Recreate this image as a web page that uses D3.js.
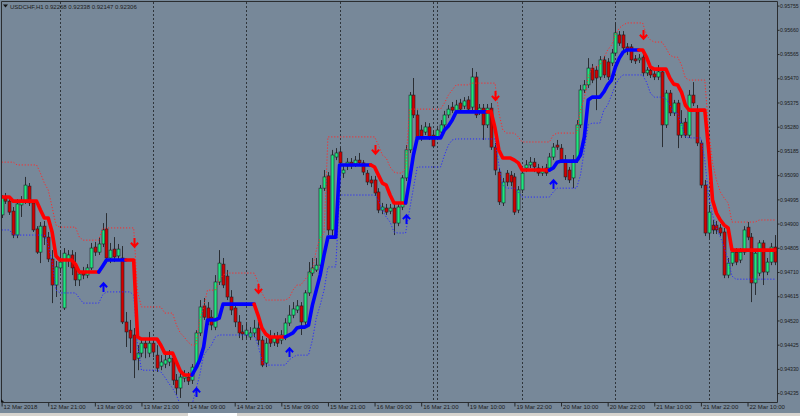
<!DOCTYPE html>
<html><head><meta charset="utf-8">
<script src="https://cdn.jsdelivr.net/npm/d3@7"></script>
<style>html,body{margin:0;padding:0;background:#778899;overflow:hidden}svg{display:block}</style>
</head><body><svg id="chart" width="800" height="416"></svg>
<script>
// USDCHF H1 candles (prices), bar 0 = first visible bar
const open = [
0.94934,0.95004,0.94988,0.94949,0.94855,0.94973,0.94985,0.95047,0.94981,0.94879,
0.94788,0.94890,0.94847,0.94761,0.94659,0.94726,0.94569,0.94757,0.94777,0.94730,
0.94679,0.94710,0.94698,0.94726,0.94808,0.94788,0.94820,0.94879,0.94765,0.94800,
0.94773,0.94765,0.94514,0.94482,0.94463,0.94372,0.94392,0.94431,0.94392,0.94431,
0.94384,0.94341,0.94349,0.94357,0.94372,0.94286,0.94255,0.94294,0.94298,0.94286,
0.94337,0.94471,0.94577,0.94569,0.94533,0.94494,0.94671,0.94741,0.94694,0.94612,
0.94569,0.94514,0.94475,0.94463,0.94455,0.94471,0.94490,0.94443,0.94353,0.94455,
0.94435,0.94455,0.94443,0.94455,0.94510,0.94541,0.94561,0.94577,0.94514,0.94628,
0.94706,0.94718,0.94737,0.95039,0.95087,0.94875,0.95161,0.95181,0.95098,0.95126,
0.95141,0.95134,0.95149,0.95138,0.95098,0.95071,0.95071,0.95024,0.94953,0.94961,
0.94949,0.94961,0.94902,0.94965,0.95079,0.95189,0.95404,0.95326,0.95267,0.95259,
0.95279,0.95247,0.95240,0.95259,0.95287,0.95326,0.95357,0.95345,0.95373,0.95361,
0.95385,0.95357,0.95475,0.95342,0.95353,0.95287,0.95353,0.95200,0.95102,0.94981,
0.95098,0.95090,0.95083,0.94953,0.95032,0.95118,0.95130,0.95141,0.95118,0.95098,
0.95118,0.95118,0.95161,0.95208,0.95196,0.95149,0.95110,0.95079,0.95149,0.95287,
0.95424,0.95444,0.95510,0.95502,0.95475,0.95542,0.95534,0.95530,0.95569,0.95640,
0.95640,0.95593,0.95593,0.95546,0.95542,0.95553,0.95491,0.95502,0.95487,0.95475,
0.95495,0.95287,0.95412,0.95334,0.95373,0.95247,0.95298,0.95247,0.95404,0.95345,
0.95216,0.95051,0.94863,0.94894,0.94894,0.94883,0.94867,0.94698,0.94745,0.94788,
0.94757,0.94788,0.94886,0.94847,0.94667,0.94706,0.94824,0.94710,0.94749,0.94808];
const high = [
0.95012,0.95020,0.94996,0.94965,0.94996,0.95008,0.95083,0.95059,0.94992,0.94890,
0.94906,0.94910,0.94867,0.94796,0.94753,0.94796,0.94804,0.94796,0.94796,0.94788,
0.94718,0.94730,0.94741,0.94824,0.94828,0.94847,0.94902,0.94941,0.94824,0.94847,
0.94820,0.94812,0.94553,0.94522,0.94490,0.94423,0.94451,0.94451,0.94475,0.94451,
0.94423,0.94384,0.94396,0.94404,0.94396,0.94310,0.94318,0.94325,0.94318,0.94349,
0.94482,0.94600,0.94608,0.94592,0.94561,0.94698,0.94796,0.94765,0.94718,0.94639,
0.94588,0.94541,0.94502,0.94514,0.94494,0.94522,0.94514,0.94459,0.94451,0.94482,
0.94471,0.94475,0.94482,0.94529,0.94580,0.94592,0.94600,0.94592,0.94639,0.94749,
0.94765,0.94765,0.95051,0.95110,0.95102,0.95189,0.95196,0.95200,0.95126,0.95157,
0.95157,0.95165,0.95177,0.95149,0.95110,0.95087,0.95087,0.95039,0.94981,0.94977,
0.94977,0.94977,0.94981,0.95090,0.95208,0.95416,0.95471,0.95345,0.95287,0.95298,
0.95294,0.95263,0.95283,0.95306,0.95342,0.95365,0.95377,0.95385,0.95389,0.95396,
0.95400,0.95510,0.95495,0.95369,0.95369,0.95369,0.95373,0.95216,0.95118,0.95079,
0.95110,0.95106,0.95098,0.95047,0.95118,0.95149,0.95161,0.95157,0.95134,0.95126,
0.95134,0.95177,0.95216,0.95228,0.95212,0.95169,0.95122,0.95169,0.95306,0.95444,
0.95463,0.95549,0.95526,0.95518,0.95557,0.95557,0.95549,0.95585,0.95687,0.95655,
0.95655,0.95608,0.95604,0.95561,0.95565,0.95565,0.95514,0.95518,0.95498,0.95522,
0.95502,0.95424,0.95424,0.95385,0.95385,0.95345,0.95314,0.95424,0.95455,0.95365,
0.95228,0.95071,0.94973,0.94914,0.94910,0.94898,0.94883,0.94765,0.94804,0.94804,
0.94804,0.94890,0.94906,0.94863,0.94796,0.94835,0.94835,0.94765,0.94824,0.94855];
const low = [
0.94922,0.94977,0.94934,0.94843,0.94843,0.94926,0.94977,0.94969,0.94867,0.94781,
0.94745,0.94816,0.94749,0.94588,0.94612,0.94706,0.94561,0.94730,0.94698,0.94655,
0.94655,0.94682,0.94686,0.94718,0.94773,0.94777,0.94808,0.94745,0.94745,0.94749,
0.94761,0.94506,0.94416,0.94392,0.94294,0.94325,0.94376,0.94372,0.94376,0.94376,
0.94318,0.94325,0.94333,0.94341,0.94267,0.94227,0.94216,0.94278,0.94267,0.94271,
0.94329,0.94459,0.94522,0.94502,0.94482,0.94482,0.94659,0.94647,0.94600,0.94541,
0.94494,0.94451,0.94443,0.94451,0.94443,0.94455,0.94423,0.94337,0.94337,0.94416,
0.94420,0.94416,0.94427,0.94443,0.94498,0.94529,0.94549,0.94463,0.94502,0.94616,
0.94694,0.94710,0.94726,0.95028,0.94855,0.94847,0.95149,0.95126,0.95079,0.95110,
0.95114,0.95122,0.95126,0.95090,0.95051,0.95043,0.95008,0.94941,0.94937,0.94934,
0.94937,0.94855,0.94890,0.94953,0.95067,0.95177,0.95314,0.95224,0.95224,0.95247,
0.95228,0.95196,0.95228,0.95247,0.95275,0.95314,0.95334,0.95334,0.95338,0.95349,
0.95338,0.95345,0.95314,0.95326,0.95228,0.95275,0.95189,0.95090,0.94973,0.94969,
0.95047,0.95047,0.94934,0.94941,0.95020,0.95102,0.95118,0.95102,0.95087,0.95087,
0.95087,0.95106,0.95149,0.95189,0.95138,0.95071,0.95059,0.95039,0.95138,0.95275,
0.95412,0.95432,0.95451,0.95345,0.95463,0.95471,0.95463,0.95518,0.95557,0.95597,
0.95573,0.95561,0.95530,0.95526,0.95530,0.95479,0.95479,0.95471,0.95463,0.95463,
0.95200,0.95275,0.95322,0.95322,0.95196,0.95236,0.95236,0.95236,0.95361,0.95204,
0.95039,0.94851,0.94843,0.94859,0.94859,0.94851,0.94686,0.94686,0.94733,0.94737,
0.94745,0.94777,0.94835,0.94592,0.94620,0.94694,0.94659,0.94698,0.94737,0.94737];
const close = [
0.95004,0.94988,0.94945,0.94855,0.94977,0.94985,0.95051,0.94981,0.94875,0.94788,
0.94890,0.94847,0.94761,0.94659,0.94730,0.94749,0.94784,0.94777,0.94726,0.94679,
0.94702,0.94698,0.94726,0.94804,0.94788,0.94820,0.94875,0.94765,0.94796,0.94769,
0.94800,0.94514,0.94475,0.94451,0.94365,0.94392,0.94431,0.94412,0.94431,0.94396,
0.94333,0.94357,0.94365,0.94372,0.94286,0.94255,0.94298,0.94302,0.94282,0.94337,
0.94471,0.94573,0.94533,0.94522,0.94502,0.94671,0.94745,0.94659,0.94612,0.94561,
0.94514,0.94471,0.94467,0.94482,0.94471,0.94490,0.94443,0.94345,0.94431,0.94431,
0.94455,0.94431,0.94463,0.94510,0.94541,0.94565,0.94577,0.94514,0.94628,0.94710,
0.94726,0.94737,0.95039,0.95083,0.94875,0.95169,0.95177,0.95138,0.95110,0.95141,
0.95126,0.95149,0.95138,0.95102,0.95063,0.95059,0.95020,0.94953,0.94965,0.94945,
0.94961,0.94902,0.94965,0.95079,0.95189,0.95404,0.95326,0.95236,0.95240,0.95279,
0.95240,0.95204,0.95267,0.95287,0.95326,0.95349,0.95345,0.95365,0.95349,0.95381,
0.95349,0.95475,0.95326,0.95353,0.95287,0.95353,0.95200,0.95110,0.94985,0.95063,
0.95063,0.95063,0.94945,0.95032,0.95098,0.95130,0.95141,0.95122,0.95098,0.95110,
0.95098,0.95161,0.95200,0.95200,0.95149,0.95083,0.95071,0.95149,0.95287,0.95424,
0.95444,0.95510,0.95463,0.95471,0.95542,0.95483,0.95475,0.95569,0.95648,0.95608,
0.95589,0.95581,0.95542,0.95538,0.95549,0.95491,0.95502,0.95483,0.95475,0.95495,
0.95287,0.95412,0.95334,0.95373,0.95247,0.95294,0.95247,0.95404,0.95373,0.95216,
0.95051,0.94863,0.94945,0.94875,0.94875,0.94863,0.94698,0.94745,0.94788,0.94749,
0.94788,0.94875,0.94847,0.94667,0.94784,0.94824,0.94710,0.94749,0.94808,0.94749];

// Trend line (thick), upper band (red dots), lower band (blue dots)
const trendLine = [
0.95004,0.95004,0.95004,0.94988,0.94988,0.94988,0.94988,0.94988,0.94988,0.94988,
0.94953,0.94922,0.94922,0.94867,0.94773,0.94757,0.94757,0.94757,0.94757,0.94741,
0.94710,0.94710,0.94710,0.94710,0.94710,0.94710,0.94733,0.94757,0.94757,0.94757,
0.94757,0.94757,0.94757,0.94757,0.94757,0.94455,0.94447,0.94447,0.94447,0.94447,
0.94447,0.94423,0.94392,0.94392,0.94392,0.94357,0.94322,0.94306,0.94306,0.94306,
0.94333,0.94365,0.94416,0.94522,0.94522,0.94522,0.94529,0.94584,0.94584,0.94584,
0.94584,0.94584,0.94584,0.94584,0.94584,0.94584,0.94541,0.94490,0.94467,0.94455,
0.94455,0.94455,0.94455,0.94455,0.94463,0.94471,0.94490,0.94494,0.94494,0.94502,
0.94580,0.94639,0.94698,0.94777,0.94847,0.94847,0.94847,0.95130,0.95130,0.95130,
0.95130,0.95130,0.95130,0.95130,0.95130,0.95130,0.95122,0.95090,0.95059,0.95051,
0.95012,0.94981,0.94981,0.94981,0.94981,0.95071,0.95169,0.95236,0.95236,0.95236,
0.95236,0.95236,0.95236,0.95236,0.95267,0.95283,0.95306,0.95338,0.95338,0.95338,
0.95338,0.95338,0.95338,0.95338,0.95338,0.95338,0.95338,0.95275,0.95189,0.95157,
0.95157,0.95157,0.95149,0.95138,0.95110,0.95110,0.95110,0.95110,0.95110,0.95110,
0.95110,0.95110,0.95118,0.95141,0.95145,0.95145,0.95145,0.95145,0.95145,0.95169,
0.95240,0.95385,0.95396,0.95396,0.95396,0.95416,0.95444,0.95463,0.95514,0.95549,
0.95573,0.95581,0.95581,0.95581,0.95581,0.95581,0.95553,0.95514,0.95506,0.95506,
0.95506,0.95506,0.95471,0.95447,0.95444,0.95416,0.95365,0.95345,0.95345,0.95345,
0.95345,0.95345,0.95189,0.94992,0.94941,0.94914,0.94894,0.94883,0.94796,0.94796,
0.94796,0.94796,0.94796,0.94796,0.94796,0.94796,0.94796,0.94796,0.94796,0.94796];
const upperBand = [
0.95141,0.95141,0.95141,0.95141,0.95130,0.95130,0.95130,0.95130,0.95130,0.95130,
0.95098,0.95059,0.95032,0.94965,0.94894,0.94886,0.94886,0.94886,0.94886,0.94886,
0.94847,0.94835,0.94835,0.94835,0.94835,0.94835,0.94879,0.94883,0.94883,0.94883,
0.94883,0.94883,0.94883,0.94883,0.94883,0.94632,0.94573,0.94573,0.94573,0.94573,
0.94573,0.94573,0.94549,0.94549,0.94549,0.94502,0.94471,0.94455,0.94435,0.94423,
0.94423,0.94522,0.94573,0.94639,0.94639,0.94639,0.94679,0.94698,0.94706,0.94706,
0.94706,0.94706,0.94706,0.94706,0.94706,0.94706,0.94671,0.94628,0.94600,0.94600,
0.94600,0.94600,0.94600,0.94600,0.94608,0.94639,0.94659,0.94659,0.94679,0.94698,
0.94718,0.94796,0.94843,0.94863,0.95240,0.95240,0.95240,0.95240,0.95240,0.95240,
0.95240,0.95240,0.95240,0.95240,0.95240,0.95240,0.95240,0.95208,0.95169,0.95157,
0.95122,0.95102,0.95098,0.95098,0.95118,0.95349,0.95349,0.95349,0.95349,0.95349,
0.95349,0.95349,0.95349,0.95349,0.95373,0.95404,0.95424,0.95444,0.95444,0.95444,
0.95444,0.95451,0.95451,0.95451,0.95451,0.95451,0.95451,0.95451,0.95334,0.95267,
0.95255,0.95255,0.95255,0.95240,0.95220,0.95220,0.95220,0.95220,0.95220,0.95220,
0.95220,0.95220,0.95247,0.95255,0.95255,0.95255,0.95255,0.95255,0.95255,0.95345,
0.95393,0.95475,0.95514,0.95514,0.95522,0.95549,0.95581,0.95600,0.95640,0.95667,
0.95679,0.95687,0.95687,0.95687,0.95687,0.95687,0.95640,0.95620,0.95612,0.95612,
0.95612,0.95589,0.95561,0.95553,0.95553,0.95522,0.95471,0.95463,0.95463,0.95463,
0.95463,0.95463,0.95267,0.95138,0.95071,0.95024,0.95000,0.94981,0.94906,0.94906,
0.94906,0.94906,0.94906,0.94906,0.94906,0.94914,0.94914,0.94914,0.94914,0.94914];
const lowerBand = [
0.94875,0.94875,0.94875,0.94855,0.94855,0.94855,0.94855,0.94855,0.94855,0.94855,
0.94855,0.94855,0.94816,0.94749,0.94639,0.94628,0.94628,0.94628,0.94628,0.94628,
0.94608,0.94588,0.94588,0.94588,0.94588,0.94588,0.94620,0.94632,0.94632,0.94632,
0.94632,0.94632,0.94632,0.94632,0.94620,0.94423,0.94325,0.94325,0.94325,0.94325,
0.94325,0.94318,0.94298,0.94274,0.94255,0.94227,0.94188,0.94188,0.94188,0.94188,
0.94247,0.94306,0.94384,0.94404,0.94423,0.94455,0.94463,0.94463,0.94463,0.94463,
0.94463,0.94463,0.94463,0.94463,0.94463,0.94463,0.94423,0.94365,0.94345,0.94345,
0.94345,0.94345,0.94345,0.94345,0.94365,0.94376,0.94384,0.94384,0.94384,0.94384,
0.94443,0.94529,0.94580,0.94639,0.94730,0.94730,0.94730,0.95012,0.95012,0.95012,
0.95012,0.95012,0.95012,0.95012,0.95012,0.95012,0.95012,0.94992,0.94953,0.94926,
0.94906,0.94867,0.94863,0.94863,0.94863,0.94953,0.95039,0.95122,0.95122,0.95122,
0.95122,0.95122,0.95122,0.95122,0.95169,0.95208,0.95228,0.95232,0.95232,0.95232,
0.95232,0.95232,0.95232,0.95232,0.95232,0.95232,0.95232,0.95232,0.95130,0.95051,
0.95039,0.95039,0.95039,0.95024,0.95004,0.95004,0.95004,0.95004,0.95004,0.95004,
0.95004,0.95004,0.95024,0.95039,0.95039,0.95039,0.95039,0.95039,0.95039,0.95090,
0.95189,0.95287,0.95294,0.95294,0.95294,0.95345,0.95365,0.95404,0.95444,0.95471,
0.95483,0.95483,0.95483,0.95483,0.95483,0.95483,0.95455,0.95412,0.95396,0.95396,
0.95396,0.95389,0.95365,0.95334,0.95334,0.95287,0.95240,0.95236,0.95236,0.95236,
0.95236,0.95149,0.95004,0.94934,0.94883,0.94847,0.94808,0.94757,0.94694,0.94682,
0.94682,0.94682,0.94682,0.94682,0.94682,0.94682,0.94682,0.94682,0.94682,0.94682];
// trend direction runs: [direction, number of bars]  (1 = up / blue, -1 = down / red)
const trendRuns = [[-1,25],[1,7],[-1,17],[1,16],[-1,8],[1,22],[-1,9],[1,21],[-1,16],[1,23],[-1,36]];
// signal arrows
const upArrowBars = [26, 50, 74, 104, 142];
const upArrowPrices = [0.94651, 0.94239, 0.94396, 0.94918, 0.95055];
const downArrowBars = [34, 66, 96, 127, 165];
const downArrowPrices = [0.94824, 0.94643, 0.95189, 0.95400, 0.95640];
// axes
const priceTicks = [0.95755,0.95660,0.95565,0.95470,0.95375,0.95280,0.95185,0.95090,0.94995,0.94900,0.94805,0.94710,0.94615,0.94520,0.94425,0.94330,0.94235];
const timeTickBars = [0,12,24,36,48,60,72,84,96,108,120,132,144,156,168,180,192];
const timeTickLabels = ["12 Mar 2018","12 Mar 21:00","13 Mar 09:00","13 Mar 21:00","14 Mar 09:00","14 Mar 21:00","15 Mar 09:00","15 Mar 21:00","16 Mar 09:00","16 Mar 21:00","19 Mar 10:00","19 Mar 22:00","20 Mar 10:00","20 Mar 22:00","21 Mar 10:00","21 Mar 22:00","22 Mar 10:00"];
const separatorBars = [15, 39, 63, 87, 111, 112, 134, 158, 182];
const headerSymbol = "USDCHF,H1";
const headerQuote = "0.92268 0.92338 0.92147 0.92306";

const W = 800, H = 416, R = 777, B = 402;
const FONT = "'Liberation Sans', Arial, sans-serif";
const svg = d3.select("#chart");
svg.append("rect").attr("width", W).attr("height", H).attr("fill", "#778899");
svg.append("rect").attr("x", 0).attr("y", 413).attr("width", W).attr("height", 3).attr("fill", "#d6d3ce");
svg.append("rect").attr("x", 188).attr("y", 413).attr("width", 49).attr("height", 3).attr("fill", "#ffffff");
svg.append("defs").append("clipPath").attr("id", "plot")
  .append("rect").attr("x", 2).attr("y", 2).attr("width", R - 2).attr("height", B - 2);

const n = open.length;
const x = d3.scaleLinear().domain([0, 199]).range([1.6, 1.6 + 199 * 3.885]);
const y = d3.scaleLinear().domain([0.94208, 0.95777]).range([400, 0]);

const g = svg.append("g").attr("clip-path", "url(#plot)");
// day separators
g.selectAll("line.sep").data(separatorBars).join("line").attr("class", "sep")
  .attr("x1", d => Math.round(x(d)) + 0.5).attr("x2", d => Math.round(x(d)) + 0.5)
  .attr("y1", 2).attr("y2", B)
  .attr("stroke", "#2f353b").attr("stroke-width", 1).attr("stroke-dasharray", "2,2");

// candles
const idx = d3.range(n);
const cx = i => Math.round(x(i));
g.selectAll("line.wick").data(idx).join("line").attr("class", "wick")
  .attr("x1", i => cx(i) + 0.5).attr("x2", i => cx(i) + 0.5)
  .attr("y1", i => y(high[i])).attr("y2", i => y(low[i]))
  .attr("stroke", "#2a2e33").attr("stroke-width", 1);
g.selectAll("rect.body").data(idx).join("rect").attr("class", "body")
  .attr("x", i => cx(i) - 1).attr("width", 3)
  .attr("y", i => y(Math.max(open[i], close[i])))
  .attr("height", i => Math.max(1, Math.abs(y(open[i]) - y(close[i]))))
  .attr("fill", i => close[i] >= open[i] ? "#1ee67f" : "#d30000")
  .attr("stroke", "#1e2226").attr("stroke-width", 0.6);

// bands
const bandLine = d3.line().x((d, i) => x(i)).y(d => y(d));
g.append("path").datum(upperBand).attr("d", bandLine).attr("fill", "none")
  .attr("stroke", "#ff2a2a").attr("stroke-width", 1).attr("stroke-dasharray", "1.2,1.8");
g.append("path").datum(lowerBand).attr("d", bandLine).attr("fill", "none")
  .attr("stroke", "#2a2aff").attr("stroke-width", 1).attr("stroke-dasharray", "1.2,1.8");

// trend line, coloured by direction
const trend = trendRuns.flatMap(([dir, len]) => Array(len).fill(dir));
const segs = []; let a = 0;
for (let i = 1; i < n - 1; i++) { if (trend[i] !== trend[a]) { segs.push([a, i - 1, trend[a]]); a = i; } }
segs.push([a, n - 2, trend[a]]);
const tl = d3.line().x(i => x(i)).y(i => y(trendLine[i]));
segs.forEach(([s, e, dir]) => {
  g.append("path").datum(d3.range(s, e + 2)).attr("d", tl).attr("fill", "none")
    .attr("stroke", dir > 0 ? "#0000ff" : "#ff0000").attr("stroke-width", 3.6)
    .attr("stroke-linejoin", "round").attr("stroke-linecap", "round");
});

// arrows
const upPath = "M0,5 V-3.5 M-3.6,0.2 L0,-3.8 L3.6,0.2";
const dnPath = "M0,-5 V3.5 M-3.6,-0.2 L0,3.8 L3.6,-0.2";
g.selectAll("path.up").data(upArrowBars).join("path").attr("class", "up")
  .attr("transform", (d, i) => `translate(${cx(d) + 0.5},${y(upArrowPrices[i])})`)
  .attr("d", upPath).attr("fill", "none").attr("stroke", "#0000ff").attr("stroke-width", 2);
g.selectAll("path.dn").data(downArrowBars).join("path").attr("class", "dn")
  .attr("transform", (d, i) => `translate(${cx(d) + 0.5},${y(downArrowPrices[i])})`)
  .attr("d", dnPath).attr("fill", "none").attr("stroke", "#ff0000").attr("stroke-width", 2);

// frame
svg.append("path").attr("d", `M1.5,${B + 0.5} V1.5 H${R + 0.5} V${B + 0.5} H1.5`)
  .attr("fill", "none").attr("stroke", "#2a2d30").attr("stroke-width", 1);
svg.append("path").attr("d", `M1,${B - 3} L4,${B} L1,${B} Z`).attr("fill", "#111");

// price axis
const ay = d3.axisRight(y).tickValues(priceTicks).tickSize(2).tickPadding(0.5).tickFormat(d3.format(".5f"));
const ayg = svg.append("g").attr("transform", `translate(${R + 0.5},0)`).call(ay);
ayg.select(".domain").remove();
ayg.selectAll("line").attr("stroke", "#26292c");
ayg.selectAll("text").attr("font-family", FONT).attr("font-size", "5.2px").attr("fill", "#1c1c1c");

// time axis
const ax = d3.axisBottom(x).tickValues(timeTickBars).tickSize(4).tickFormat((d, i) => timeTickLabels[i]);
const axg = svg.append("g").attr("transform", `translate(0,${B + 0.5})`).call(ax);
axg.select(".domain").remove();
axg.selectAll("line").attr("stroke", "#26292c");
axg.selectAll("text").attr("text-anchor", "start").attr("dx", 1.5).attr("y", 2)
  .attr("font-family", FONT).attr("font-size", "6px").attr("fill", "#1c1c1c");

// header
svg.append("path").attr("d", "M3,4.5 H8 L5.5,7.5 Z").attr("fill", "#111");
svg.append("text").attr("x", 10).attr("y", 8.6).text(headerSymbol)
  .attr("font-family", FONT).attr("font-size", "6px").attr("fill", "#1c1c1c");
svg.append("text").attr("x", 45).attr("y", 8.6).text(headerQuote)
  .attr("font-family", FONT).attr("font-size", "6px").attr("fill", "#1c1c1c");

const lens = [open, high, low, close, trendLine, upperBand, lowerBand, trend].map(a => a.length);
if (lens.some(l => l !== 200)) throw new Error("length mismatch: " + lens.join(","));
</script>
</body></html>
